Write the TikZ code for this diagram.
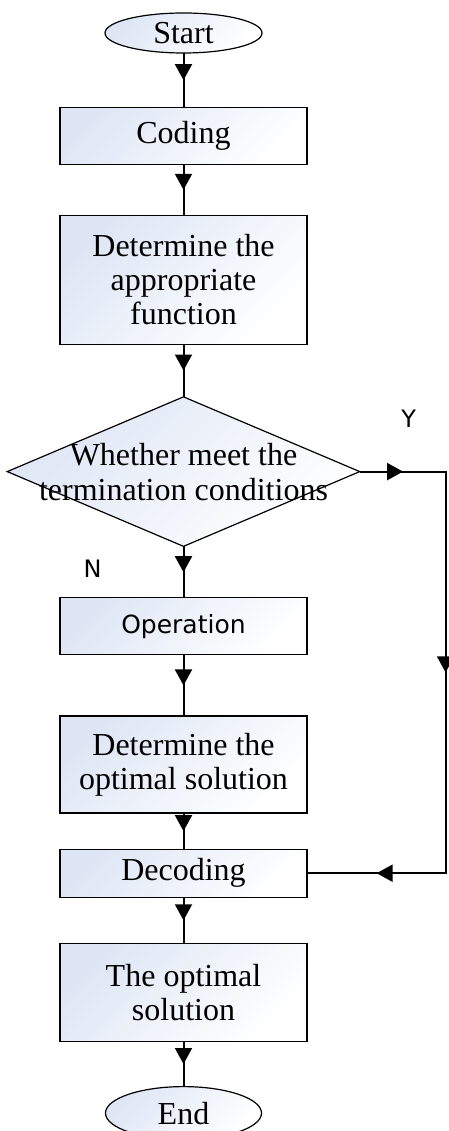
\documentclass[tikz,border=0pt]{standalone}
\usepackage{fontspec}
\setmainfont{Liberation Serif}
\newfontfamily\lblfont{DejaVu Sans}
\usetikzlibrary{arrows.meta,positioning,shapes.geometric,decorations.markings}
\definecolor{boxtint}{RGB}{222,230,245}

\begin{document}
\begin{tikzpicture}[
    x=1pt, y=1pt,
    blk/.style={draw, line width=1.2pt, top color=boxtint, bottom color=white, shading angle=45, align=center, minimum width=247pt, inner sep=0pt, font=\fontsize{32}{34}\selectfont},
    term/.style={blk, ellipse, minimum width=157pt, minimum height=40pt},
    dec/.style={blk, diamond, minimum width=353pt, minimum height=150pt},
    lbl/.style={font=\lblfont\fontsize{24}{28}\selectfont},
    flow/.style={line width=2pt, line cap=rect, decoration={markings, mark=at position 0.5 with {\arrow{Triangle[length=16pt,width=17pt]}}}, postaction={decorate}}
]
\useasboundingbox (-183.5,33) rectangle (264.5,-1098);
\node[term] (start) {Start};
\node[blk, minimum height=57pt, below=53pt of start] (coding) {Coding};
\node[blk, minimum height=129pt, below=50pt of coding] (fitfun) {Determine the\\appropriate\\function};
\node[dec, below=51pt of fitfun, label={[font=\fontsize{32}{35}\selectfont, align=center]center:Whether meet the\\termination conditions}] (cond) {};
\node[blk, minimum height=57pt, below=50pt of cond, font=\lblfont\fontsize{25}{30}\selectfont] (oper) {Operation};
\node[blk, minimum height=97pt, below=60pt of oper] (optsol) {Determine the\\optimal solution};
\node[blk, minimum height=48pt, below=35pt of optsol] (decode) {Decoding};
\node[blk, minimum height=98pt, below=45pt of decode] (result) {The optimal\\solution};
\node[term, minimum width=156pt, minimum height=53pt, below=44pt of result] (finish) {End};
\coordinate[right=85pt of cond.east] (ytop);
\coordinate (ybot) at (ytop |- decode.east);
\node[lbl] (ylab) at ([xshift=48pt,yshift=53pt]cond.east) {Y};
\node[lbl] (nlab) at ([xshift=-91pt,yshift=-22pt]cond.south) {N};
\draw[flow] (start) -- (coding);
\draw[flow] (coding) -- (fitfun);
\draw[flow] (fitfun) -- (cond);
\draw[flow] (cond) -- (oper);
\draw[flow] (oper) -- (optsol);
\draw[flow] (optsol) -- (decode);
\draw[flow] (decode) -- (result);
\draw[flow] (result) -- (finish);
\draw[flow] (cond.east) -- (ytop);
\draw[flow] (ytop) -- (ybot);
\draw[flow] (ybot) -- (decode.east);
\end{tikzpicture}
\end{document}
